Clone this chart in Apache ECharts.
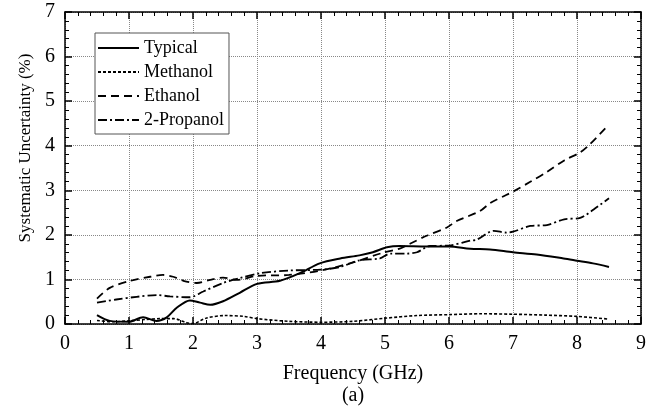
<!DOCTYPE html>
<html>
<head>
<meta charset="utf-8">
<script src="https://cdn.jsdelivr.net/npm/echarts@6/dist/echarts.min.js"></script>
<style>
html,body{margin:0;padding:0;background:#fff;}
#chart{width:662px;height:412px;}
</style>
</head>
<body>
<div id="chart"></div>
<script>
var xTicks = [0,1,2,3,4,5,6,7,8,9];
var yTicks = [0,1,2,3,4,5,6,7];

var typicalF = [0.5,0.7,1.0,1.22,1.43,1.59,1.75,1.95,2.11,2.27,2.47,2.73,3.0,3.36,3.67,3.98,4.3,4.6,4.81,5.03,5.23,5.65,6.0,6.33,6.64,7.0,7.37,7.79,8.0,8.25,8.5];
var typicalV = [0.2,0.07,0.05,0.15,0.07,0.15,0.37,0.53,0.48,0.43,0.51,0.7,0.9,0.97,1.14,1.36,1.47,1.54,1.61,1.72,1.75,1.74,1.74,1.69,1.67,1.61,1.56,1.47,1.42,1.36,1.28];

var methanolF = [0.5,0.75,1.0,1.25,1.5,1.7,1.9,2.0,2.2,2.5,2.8,3.0,3.5,4.0,4.5,5.0,5.5,6.0,6.5,7.0,7.5,8.0,8.5];
var methanolV = [0.08,0.05,0.07,0.1,0.12,0.12,0.03,0.01,0.13,0.19,0.17,0.12,0.06,0.04,0.06,0.13,0.19,0.21,0.23,0.22,0.2,0.17,0.11];

var ethanolF = [0.5,0.7,1.0,1.33,1.53,1.69,1.85,2.06,2.27,2.47,2.68,3.0,3.5,4.0,4.5,4.97,5.23,5.39,5.65,5.96,6.12,6.48,6.64,6.9,7.0,7.27,7.53,7.8,8.05,8.2,8.45];
var ethanolV = [0.57,0.81,0.96,1.06,1.1,1.06,0.97,0.92,0.99,1.04,0.99,1.08,1.1,1.2,1.38,1.6,1.69,1.8,1.98,2.16,2.31,2.53,2.71,2.9,2.97,3.19,3.41,3.67,3.85,4.03,4.4];

var propanolF = [0.5,0.8,1.12,1.43,1.64,1.95,2.16,2.47,2.73,3.05,3.5,4.0,4.3,4.6,4.92,5.08,5.34,5.5,5.7,6.0,6.33,6.43,6.7,6.9,7.0,7.27,7.53,7.8,8.05,8.26,8.5];
var propanolV = [0.48,0.55,0.61,0.65,0.62,0.6,0.73,0.92,1.03,1.14,1.2,1.22,1.28,1.43,1.47,1.58,1.58,1.61,1.75,1.76,1.87,1.89,2.09,2.05,2.07,2.2,2.22,2.35,2.38,2.57,2.82];

var seriesNames = ['Typical','Methanol','Ethanol','2-Propanol'];

function pairs(f, v){ return f.map(function(x,i){ return [x, v[i]]; }); }

var FONT = '"Liberation Serif", "Times New Roman", serif';

var chart = echarts.init(document.getElementById('chart'), null, {renderer:'canvas'});

function mkX(pos, labels){
  return {
    type:'value', position:pos, min:xTicks[0], max:xTicks[xTicks.length-1], interval:1,
    axisLine:{show:true, onZero:false, lineStyle:{color:'#000', width:1.5}},
    axisTick:{show:true, inside:true, length:7, lineStyle:{color:'#000', width:1.5}},
    minorTick:{show:true, splitNumber:5, length:4, lineStyle:{color:'#000', width:1}},
    splitLine:{show:labels, lineStyle:{color:'#888', type:[1,1], width:1}},
    axisLabel:{show:labels, color:'#000', fontSize:20, fontFamily:FONT, margin:10},
    name: labels ? 'Frequency (GHz)\n(a)' : '',
    nameLocation:'middle', nameGap:39,
    nameTextStyle:{color:'#000', fontSize:20, fontFamily:FONT, lineHeight:22}
  };
}
function mkY(pos, labels){
  return {
    type:'value', position:pos, min:yTicks[0], max:yTicks[yTicks.length-1], interval:1,
    axisLine:{show:true, onZero:false, lineStyle:{color:'#000', width:1.5}},
    axisTick:{show:true, inside:true, length:7, lineStyle:{color:'#000', width:1.5}},
    minorTick:{show:true, splitNumber:5, length:4, lineStyle:{color:'#000', width:1}},
    splitLine:{show:labels, lineStyle:{color:'#888', type:[1,1], width:1}},
    axisLabel:{show:labels, color:'#000', fontSize:20, fontFamily:FONT, margin:10},
    name: labels ? 'Systematic Uncertainty (%)' : '',
    nameLocation:'middle', nameGap:31,
    nameTextStyle:{color:'#000', fontSize:17, fontFamily:FONT, padding:[0,0,0,40]}
  };
}

var styles = [
  {type:'solid', width:2},
  {type:[3,2], width:1.6},
  {type:[8,5], width:1.8},
  {type:[9,3,2,3], width:1.8}
];
var datas = [pairs(typicalF,typicalV), pairs(methanolF,methanolV), pairs(ethanolF,ethanolV), pairs(propanolF,propanolV)];

var option = {
  backgroundColor:'#fff',
  animation:false,
  grid:{left:65, right:21, top:12, bottom:82, containLabel:false},
  legend:{
    show:true, orient:'vertical', left:95, top:33,
    padding:[6,5,5,2], itemGap:6, itemWidth:41, itemHeight:16,
    borderColor:'#555', borderWidth:1, backgroundColor:'#fff',
    itemStyle:{opacity:0},
    textStyle:{color:'#000', fontSize:18, fontFamily:FONT},
    data: seriesNames
  },
  xAxis:[mkX('bottom', true), mkX('top', false)],
  yAxis:[mkY('left', true), mkY('right', false)],
  series: seriesNames.map(function(n,i){
    return {
      name:n, type:'line', xAxisIndex:0, yAxisIndex:0,
      data:datas[i], showSymbol:false, symbol:'none', smooth:0.3,
      lineStyle:{color:'#000', type:styles[i].type, width:styles[i].width},
      itemStyle:{color:'#000'}, z:3
    };
  })
};
chart.setOption(option);
</script>
</body>
</html>
